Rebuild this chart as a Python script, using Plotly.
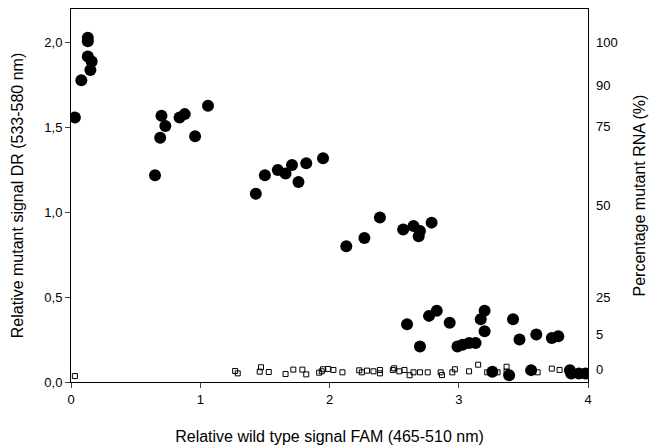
import plotly.graph_objects as go

# mutant samples (filled circles)
circ_x = [0.03, 0.08, 0.13, 0.13, 0.13, 0.16, 0.15,
          0.65, 0.70, 0.69, 0.73, 0.84, 0.88, 0.96, 1.06,
          1.43, 1.50, 1.60, 1.66, 1.71, 1.76, 1.82, 1.95,
          2.13, 2.27, 2.39, 2.57, 2.65, 2.70, 2.69, 2.79,
          2.60, 2.70, 2.77, 2.83, 2.93, 2.99, 3.03, 3.08, 3.13, 3.17, 3.20, 3.20,
          3.42, 3.47, 3.60, 3.72, 3.77,
          3.26, 3.39, 3.56, 3.86, 3.87, 3.93, 3.98]
circ_y = [1.56, 1.78, 2.03, 2.01, 1.92, 1.89, 1.84,
          1.22, 1.57, 1.44, 1.51, 1.56, 1.58, 1.45, 1.63,
          1.11, 1.22, 1.25, 1.23, 1.28, 1.18, 1.29, 1.32,
          0.80, 0.85, 0.97, 0.90, 0.92, 0.89, 0.86, 0.94,
          0.34, 0.21, 0.39, 0.42, 0.35, 0.21, 0.22, 0.23, 0.23, 0.37, 0.42, 0.30,
          0.37, 0.25, 0.28, 0.26, 0.27,
          0.06, 0.04, 0.07, 0.07, 0.05, 0.05, 0.05]

# wild type samples (open squares)
sq_x = [0.03,
        1.27, 1.29, 1.46, 1.47, 1.53, 1.66, 1.72, 1.79, 1.82, 1.92, 1.94, 1.95, 1.99, 2.03,
        2.10, 2.23, 2.25, 2.29, 2.34, 2.39, 2.39, 2.49, 2.50, 2.54, 2.58, 2.62, 2.65, 2.70,
        2.76, 2.86, 2.87, 2.95, 2.97, 3.08, 3.15, 3.22, 3.30, 3.37, 3.37, 3.61, 3.72, 3.78]
sq_y = [0.035,
        0.065, 0.051, 0.061, 0.087, 0.059, 0.047, 0.073, 0.073, 0.045, 0.055, 0.063, 0.075, 0.077, 0.071,
        0.057, 0.069, 0.057, 0.067, 0.063, 0.071, 0.051, 0.071, 0.081, 0.063, 0.071, 0.040, 0.057, 0.057,
        0.057, 0.057, 0.041, 0.057, 0.075, 0.063, 0.102, 0.057, 0.057, 0.090, 0.061, 0.057, 0.079, 0.071]

# right axis: percentage mutant RNA mapped onto DR scale
pct_pos = [2.0, 1.75, 1.51, 1.04, 0.496, 0.283, 0.077]
pct_labels = ["100", "90", "75", "50", "25", "5", "0"]

fnt = "Liberation Sans, Arial, sans-serif"

fig = go.Figure()
fig.add_trace(go.Scatter(x=sq_x, y=sq_y, mode="markers",
                         marker=dict(symbol="square-open", size=5, color="black",
                                     line=dict(width=1, color="black")),
                         showlegend=False))
fig.add_trace(go.Scatter(x=circ_x, y=circ_y, mode="markers",
                         marker=dict(symbol="circle", size=12, color="black"),
                         showlegend=False))
# invisible trace to carry right axis
fig.add_trace(go.Scatter(x=[None], y=[None], yaxis="y2", showlegend=False))

fig.update_layout(
    width=649, height=447,
    margin=dict(l=71, r=61, t=9, b=65),
    plot_bgcolor="white", paper_bgcolor="white",
    separators=",.",
    font=dict(family=fnt, size=13, color="black"),
    xaxis=dict(range=[0, 4], tickvals=[0, 1, 2, 3, 4], ticks="outside", ticklen=5,
               showline=True, linecolor="black", linewidth=1, mirror=True,
               showgrid=False, zeroline=False, automargin=False,
               title=dict(text="Relative wild type signal FAM (465-510 nm)",
                          font=dict(size=16), standoff=25)),
    yaxis=dict(range=[0, 2.2], tickvals=[0, 0.5, 1.0, 1.5, 2.0], tickformat=".1f",
               ticks="outside", ticklen=5,
               showline=True, linecolor="black", linewidth=1, mirror=True,
               showgrid=False, zeroline=False, automargin=False,
               title=dict(text="Relative mutant signal DR (533-580 nm)",
                          font=dict(size=16), standoff=16)),
    yaxis2=dict(range=[0, 2.2], overlaying="y", side="right",
                tickvals=pct_pos, ticktext=pct_labels, ticks="", ticklabelstandoff=7,
                showline=False, showgrid=False, zeroline=False, automargin=False,
                title=dict(text="Percentage mutant RNA (%)", font=dict(size=16), standoff=17)),
)

# drop the browser's default page margin so the figure sits at 0,0
fig.write_html("out.html", config={"displayModeBar": False},
               post_script="document.body.style.margin='0';")
